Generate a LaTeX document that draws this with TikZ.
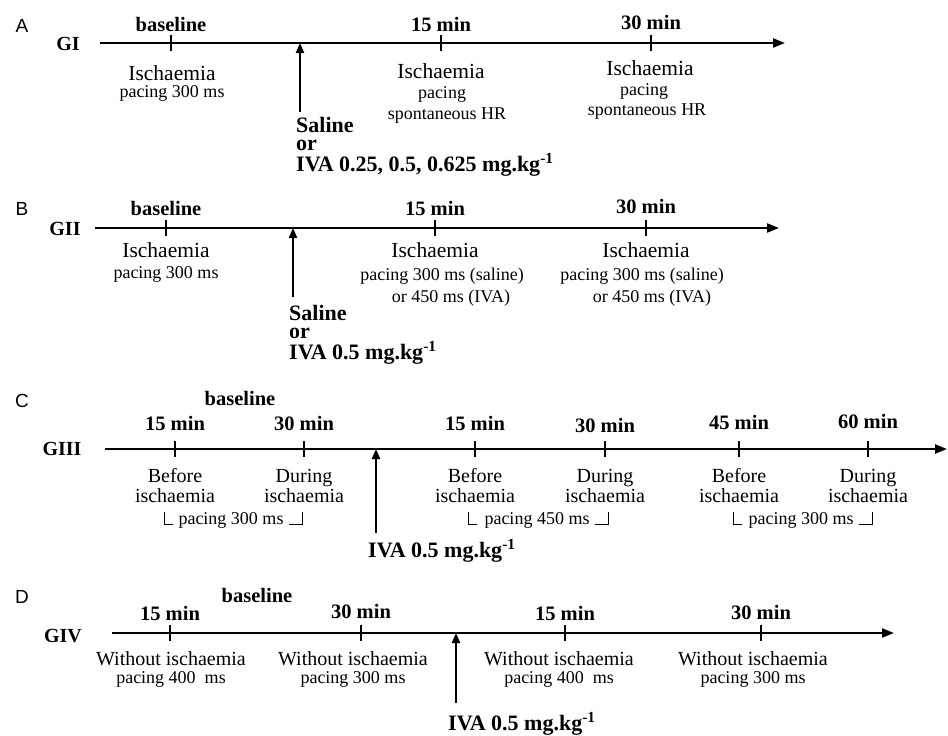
\documentclass[tikz,border=0pt]{standalone}
\usepackage{fontspec}
\setmainfont{Liberation Serif}
\setsansfont{Liberation Sans}
\usetikzlibrary{arrows.meta}
\newcommand{\perkg}{mg.kg\textsuperscript{-1}}
\begin{document}
\begin{tikzpicture}[x=1pt,y=-1pt,>={Triangle[length=12pt,width=9pt]},
  axis/.style={line width=2.2pt,->},
  dose/.style={line width=2pt,-{Triangle[length=10pt,width=8pt]}},
  tk/.style={line width=1.5pt},
  brk/.style={line width=1pt},
  panel/.style={anchor=base,font=\fontsize{19}{19}\sffamily},
  grp/.style={anchor=base,font=\fontsize{20}{20}\selectfont\bfseries},
  time/.style={anchor=base,font=\fontsize{20.5}{20}\selectfont\bfseries},
  isc/.style={anchor=base,font=\fontsize{21.5}{20}\selectfont},
  lab/.style={anchor=base,font=\fontsize{20}{20}\selectfont},
  sub/.style={anchor=base,font=\fontsize{18}{18}\selectfont},
  drug/.style={anchor=north west,inner sep=0pt,align=left,font=\fontsize{22}{18}\selectfont\bfseries}]
\useasboundingbox (0,0) rectangle (948,736);
% A
\node[panel] (pA) at (22,32) {A};
\node[grp] (gI) at (68,50) {GI};
\coordinate (aS) at (100,43); \coordinate (aE) at (785,43);
\draw[axis] (aS) -- (aE);
\foreach \x/\y/\t [count=\i] in {171/31/baseline,441/31/15 min,651/29/30 min}{
  \draw[tk] (\x,35) -- (\x,51);
  \node[time] (aT\i) at (\x,\y) {\t};}
\node[isc] (aL1) at (172,80) {Ischaemia};
\node[sub] (aP1) at (172,97) {pacing 300 ms};
\node[isc] (aL2) at (441,78) {Ischaemia};
\node[sub] (aP2) at (442,98) {pacing};
\node[sub] (aH2) at (447,119) {spontaneous HR};
\node[isc] (aL3) at (650,75) {Ischaemia};
\node[sub] (aP3) at (644,95) {pacing};
\node[sub] (aH3) at (647,115) {spontaneous HR};
\coordinate (aD) at (300,112);
\draw[dose] (aD) -- (aD |- aS);
\node[drug] (aDrug) at (296,117) {Saline\\or\\[3pt]IVA 0.25, 0.5, 0.625 \perkg};
% B
\node[panel] (pB) at (22,215) {B};
\node[grp] (gII) at (65,235) {GII};
\coordinate (bS) at (95,228); \coordinate (bE) at (779,228);
\draw[axis] (bS) -- (bE);
\foreach \x/\y/\t [count=\i] in {166/215/baseline,435/215/15 min,646/213/30 min}{
  \draw[tk] (\x,220) -- (\x,236);
  \node[time] (bT\i) at (\x,\y) {\t};
  \node[isc] (bL\i) at (\x,257) {Ischaemia};}
\node[sub] (bP1) at (166,278) {pacing 300 ms};
\node[sub] (bP2) at (442,280) {pacing 300 ms (saline)};
\node[sub] (bO2) at (451,302) {or 450 ms (IVA)};
\node[sub] (bP3) at (642,280) {pacing 300 ms (saline)};
\node[sub] (bO3) at (652,302) {or 450 ms (IVA)};
\coordinate (bD) at (293,297);
\draw[dose] (bD) -- (bD |- bS);
\node[drug] (bDrug) at (289,305) {Saline\\or\\[3pt]IVA 0.5 \perkg};
% C
\node[panel] (pC) at (22,407) {C};
\node[time] (cBase) at (240,405) {baseline};
\node[grp] (gIII) at (62,455) {GIII};
\coordinate (cS) at (105,449); \coordinate (cE) at (947,449);
\draw[axis] (cS) -- (cE);
\foreach \x/\y/\t/\w [count=\i] in {175/430/15/Before,304/430/30/During,475/430/15/Before,
    605/432/30/During,739/429/45/Before,868/428/60/During}{
  \draw[tk] (\x,441) -- (\x,457);
  \node[time] (cT\i) at (\x,\y) {\t\ min};
  \node[lab] (cW\i) at (\x,482) {\w};
  \node[lab] (cI\i) at (\x,502) {ischaemia};}
\foreach \l/\r/\m/\t [count=\i] in {164/302/231/300,468/608/537/450,733/872/801/300}{
  \draw[brk] (\l,512) |- (\l+9,524);
  \draw[brk] (\r-13,524) -| (\r,512);
  \node[sub] (cB\i) at (\m,524) {pacing \t\ ms};}
\coordinate (cD) at (376,533);
\draw[dose] (cD) -- (cD |- cS);
\node[drug,anchor=base west] (cIVA) at (368,557) {IVA 0.5 \perkg};
% D
\node[panel] (pD) at (22,603) {D};
\node[time] (dBase) at (257,602) {baseline};
\node[grp] (gIV) at (63,642) {GIV};
\coordinate (dS) at (112,633); \coordinate (dE) at (894,633);
\draw[axis] (dS) -- (dE);
\foreach \x/\y/\t [count=\i] in {170/620/15,361/618/30,565/620/15,761/619/30}{
  \draw[tk] (\x,625) -- (\x,641);
  \node[time] (dT\i) at (\x,\y) {\t\ min};}
\foreach \x/\p [count=\i] in {171/400~,353/300,559/400~,753/300}{
  \node[lab] (dW\i) at (\x,665) {Without ischaemia};
  \node[sub] (dP\i) at (\x,683) {pacing \p\ ms};}
\coordinate (dD) at (456,703);
\draw[dose] (dD) -- (dD |- dS);
\node[drug,anchor=base west] (dIVA) at (448,730) {IVA 0.5 \perkg};
\end{tikzpicture}
\end{document}
